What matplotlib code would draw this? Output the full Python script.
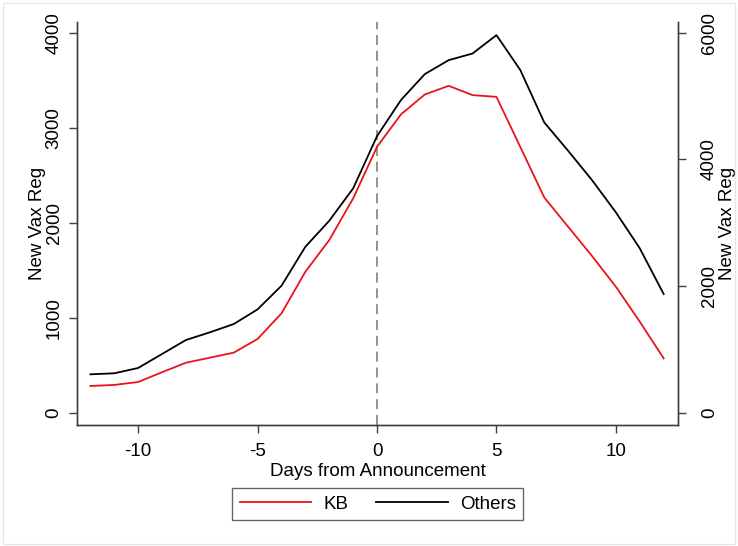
import matplotlib
matplotlib.use("Agg")
import matplotlib.pyplot as plt
from matplotlib.lines import Line2D
from matplotlib.patches import Rectangle

# Days relative to the announcement
days = list(range(-12, 13))

# New vaccination registrations, KB (left axis)
kb = [281, 292, 323, 426, 526, 579, 632, 776, 1046, 1484, 1818, 2257, 2800,
      3141, 3351, 3442, 3344, 3326, 2797, 2267, 1958, 1650, 1326, 958, 572]

# New vaccination registrations, all other regions (right axis)
others = [606, 622, 706, 927, 1148, 1269, 1400, 1632, 2005, 2621, 3032, 3543, 4369,
          4938, 5348, 5569, 5674, 5964, 5411, 4585, 4137, 3674, 3164, 2596, 1874]

x_ticks = [-10, -5, 0, 5, 10]
left_ticks = [0, 1000, 2000, 3000, 4000]
right_ticks = [0, 2000, 4000, 6000]

plt.rcParams["font.family"] = ["Liberation Sans", "DejaVu Sans"]
plt.rcParams["axes.unicode_minus"] = False
FS = 13.5
SPINE = "#404040"

fig = plt.figure(figsize=(7.38, 5.46), dpi=100)
fig.patch.set_facecolor("white")
ax = fig.add_axes([0.1047, 0.2216, 0.814, 0.7384])
ax2 = ax.twinx()

ax.plot(days, kb, color="#e8141b", lw=1.3, zorder=3)
ax2.plot(days, others, color="black", lw=1.3, zorder=3)
ax.axvline(0, color="#808080", lw=1.2, ls=(0, (6, 3.5)), zorder=2)

ax.set_xlim(-12.55, 12.6)
ax.set_ylim(-130, 4116)
ax2.set_ylim(-195, 6174)

ax.set_xticks(x_ticks)
ax.set_yticks(left_ticks)
ax2.set_yticks(right_ticks)

for a in (ax, ax2):
    a.spines["top"].set_visible(False)
    for s in ("left", "right", "bottom"):
        a.spines[s].set_color(SPINE)
        a.spines[s].set_linewidth(1.0)
    a.tick_params(length=6, width=1.0, color=SPINE, labelsize=FS, pad=7)

ax.tick_params(axis="y", labelrotation=90, pad=4.5)
ax2.tick_params(axis="y", labelrotation=90, pad=10.5)
for lab in ax.get_yticklabels() + ax2.get_yticklabels():
    lab.set_verticalalignment("center")

ax.set_xlabel("Days from Announcement", fontsize=FS, labelpad=2)
ax.set_ylabel("New Vax Reg", fontsize=FS, labelpad=0)
ax2.set_ylabel("New Vax Reg", fontsize=FS, labelpad=1)

handles = [Line2D([], [], color="#e8141b", lw=1.3),
           Line2D([], [], color="black", lw=1.3)]
leg = fig.legend(handles, ["KB", "Others"], loc="center",
                 bbox_to_anchor=(0.512, 0.077), ncol=2, fontsize=FS,
                 frameon=True, fancybox=False, handlelength=3.8,
                 handletextpad=0.65, columnspacing=1.5, borderpad=0.4)
leg.get_frame().set_edgecolor(SPINE)
leg.get_frame().set_linewidth(1.0)

# faint outline around the graph region
fig.patches.append(Rectangle((0.004, 0.004), 0.992, 0.99, transform=fig.transFigure,
                             fill=False, edgecolor="#e6e6e6", lw=1.0))

fig.savefig("out.png", dpi=100)
